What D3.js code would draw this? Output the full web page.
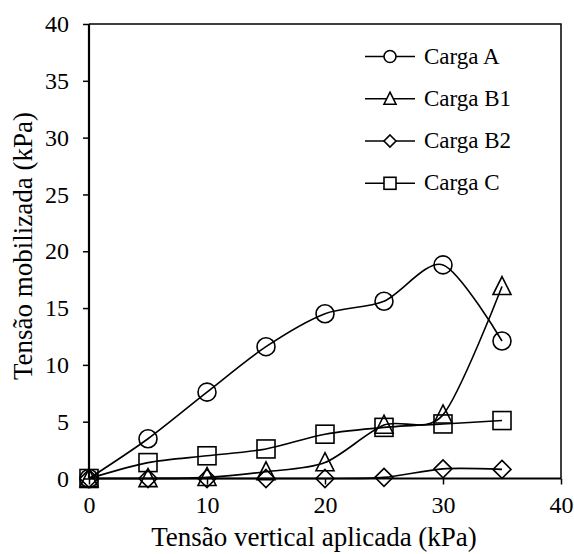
<!DOCTYPE html>
<html><head><meta charset="utf-8">
<script src="https://cdn.jsdelivr.net/npm/d3@7"></script>
<style>body{margin:0;background:#fff}svg{display:block}</style>
</head><body>
<script>
const xValues = [0, 5, 10, 15, 20, 25, 30, 35];
const cargaA  = [0, 3.5, 7.6, 11.6, 14.5, 15.6, 18.8, 12.1];
const cargaB1 = [0, 0, 0.1, 0.6, 1.4, 4.7, 5.6, 16.9];
const cargaB2 = [0, 0, 0, 0, 0, 0.1, 0.85, 0.8];
const cargaC  = [0, 1.4, 2.0, 2.6, 3.9, 4.5, 4.8, 5.1];
const seriesNames = ["Carga A", "Carga B1", "Carga B2", "Carga C"];
const seriesSymbols = ["circle", "triangle", "diamond", "square"];
const xTicks = [0, 10, 20, 30, 40];
const yTicks = [0, 5, 10, 15, 20, 25, 30, 35, 40];
const xTitle = "Tensão vertical aplicada (kPa)";
const yTitle = "Tensão mobilizada (kPa)";

const W = 574, H = 554;
const FONT = '"Liberation Serif"';
const m = {left: 89, right: 561, top: 24, bottom: 478.5};
const svg = d3.select("body").append("svg").attr("width", W).attr("height", H);
const x = d3.scaleLinear().domain([0, 40]).range([m.left, m.right]);
const y = d3.scaleLinear().domain([0, 40]).range([m.bottom, m.top]);

svg.append("path").attr("d", `M${m.left},${m.top}H${m.right}V${m.bottom}`)
  .attr("fill", "none").attr("stroke", "#000").attr("stroke-width", 1.5);

const series = [cargaA, cargaB1, cargaB2, cargaC];
const line = d3.line().x((d, i) => x(xValues[i])).y(d => y(d)).curve(d3.curveCardinal.tension(0.15));

function drawMarker(g, type, cx, cy, s) {
  if (type === "circle") g.append("circle").attr("cx", cx).attr("cy", cy).attr("r", s);
  else if (type === "square") g.append("rect").attr("x", cx - s).attr("y", cy - s).attr("width", 2 * s).attr("height", 2 * s);
  else if (type === "triangle") g.append("path").attr("d", `M${cx},${cy - s * 1.1}L${cx + s},${cy + s * 0.9}L${cx - s},${cy + s * 0.9}Z`);
  else if (type === "diamond") g.append("path").attr("d", `M${cx},${cy - s}L${cx + s},${cy}L${cx},${cy + s}L${cx - s},${cy}Z`);
}

series.forEach((vals, k) => {
  const g = svg.append("g");
  g.append("path").attr("d", line(vals)).attr("fill", "none").attr("stroke", "#000").attr("stroke-width", 1.6);
  const mg = g.append("g").attr("fill", "none").attr("stroke", "#000").attr("stroke-width", 1.6);
  vals.forEach((v, i) => drawMarker(mg, seriesSymbols[k], x(xValues[i]), y(v), 9));
});

const xAxis = d3.axisBottom(x).tickValues(xTicks).tickSize(6).tickPadding(11);
const gx = svg.append("g").attr("transform", `translate(0,${m.bottom})`).call(xAxis);
const yAxis = d3.axisLeft(y).tickValues(yTicks).tickSize(6).tickPadding(14);
const gy = svg.append("g").attr("transform", `translate(${m.left},0)`).call(yAxis);
[gx, gy].forEach(g => {
  g.attr("font-family", null).attr("font-size", null);
  g.select(".domain").attr("stroke-width", 2.2).attr("d", g === gx ? `M${m.left},0H${m.right}` : `M0,${m.bottom}V${m.top}`);
  g.selectAll(".tick line").attr("stroke-width", 1.5);
  g.selectAll("text").style("font-family", FONT).style("font-size", "24px").attr("fill", "#000");
});

svg.append("text").attr("x", 314).attr("y", 546).attr("text-anchor", "middle")
  .style("font-family", FONT).style("font-size", "27px").text(xTitle);
svg.append("text").attr("transform", `translate(32,246) rotate(-90)`).attr("text-anchor", "middle")
  .style("font-family", FONT).style("font-size", "27px").text(yTitle);

const legY = [56.5, 98.8, 141, 183.3];
seriesNames.forEach((name, k) => {
  const g = svg.append("g");
  g.append("line").attr("x1", 365).attr("x2", 415).attr("y1", legY[k]).attr("y2", legY[k]).attr("stroke", "#000").attr("stroke-width", 1.6);
  const mg = g.append("g").attr("fill", "#fff").attr("stroke", "#000").attr("stroke-width", 1.6);
  drawMarker(mg, seriesSymbols[k], 390, legY[k], 6);
  g.append("text").attr("x", 424).attr("y", legY[k] + 7).style("font-family", FONT).style("font-size", "23px").text(name);
});
</script>
</body></html>
